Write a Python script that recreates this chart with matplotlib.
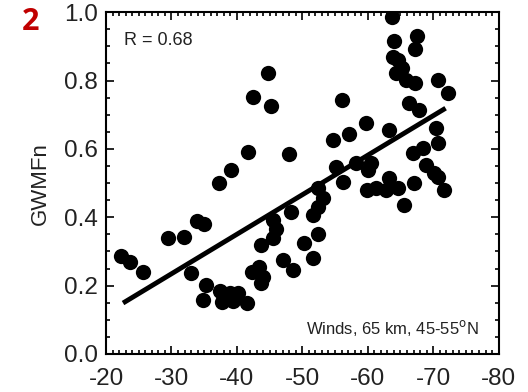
# GWMFn vs winds scatter, panel 2
import matplotlib.pyplot as plt
import numpy as np
from matplotlib.ticker import MultipleLocator

plt.rcParams['font.family'] = ['Liberation Sans', 'DejaVu Sans']
plt.rcParams['axes.unicode_minus'] = False

# winds (m/s)
winds = np.array([
    -22.3, -23.7, -25.7, -29.5, -31.9, -33.9, -35.0, -33.0, -35.3, -34.8,
    -37.4, -37.7, -38.9, -39.4, -40.2, -41.5, -37.3, -39.1, -42.4, -44.7,
    -45.2, -41.7, -42.3, -43.4, -44.0, -43.7, -43.7, -45.5, -46.0, -45.5,
    -47.0, -48.6, -48.2, -47.9, -50.2, -52.4, -51.6, -51.6, -52.4, -53.1,
    -52.4, -54.7, -56.0, -57.1, -55.1, -56.2, -58.2, -59.7, -59.9, -60.5,
    -60.0, -61.2, -62.8, -63.2, -63.2, -64.6, -65.5, -67.0, -66.9, -68.4,
    -68.9, -70.1, -70.8, -71.6, -70.8, -70.4, -72.2, -70.8, -66.3, -67.8,
    -63.7, -64.0, -67.6, -67.2, -63.8, -64.7, -65.3, -64.3, -65.8, -67.3,
])
gwmfn = np.array([
    0.287, 0.269, 0.240, 0.339, 0.342, 0.389, 0.380, 0.237, 0.202, 0.158,
    0.184, 0.152, 0.178, 0.155, 0.178, 0.149, 0.500, 0.538, 0.751, 0.822,
    0.725, 0.591, 0.240, 0.254, 0.225, 0.208, 0.319, 0.339, 0.365, 0.392,
    0.275, 0.246, 0.415, 0.585, 0.325, 0.351, 0.281, 0.406, 0.430, 0.456,
    0.485, 0.626, 0.743, 0.643, 0.547, 0.503, 0.558, 0.675, 0.480, 0.558,
    0.538, 0.485, 0.480, 0.515, 0.655, 0.485, 0.436, 0.500, 0.588, 0.602,
    0.553, 0.529, 0.518, 0.480, 0.617, 0.661, 0.763, 0.801, 0.734, 0.713,
    0.985, 0.915, 0.930, 0.892, 0.868, 0.860, 0.836, 0.822, 0.801, 0.792,
])

# regression line end points as drawn
fit_x = [-22.6, -71.9]
fit_y = [0.149, 0.719]

fig = plt.figure(figsize=(5.28, 3.92), dpi=100)
ax = fig.add_axes([0.2008, 0.097, 0.7435, 0.872])

ax.plot(winds, gwmfn, 'o', color='black', markersize=11, markeredgewidth=0)
ax.plot(fit_x, fit_y, color='black', linewidth=3.5, solid_capstyle='butt')

ax.set_xlim(-20, -80)
ax.set_ylim(0, 1)
ax.xaxis.set_major_locator(MultipleLocator(10))
ax.xaxis.set_minor_locator(MultipleLocator(1))
ax.yaxis.set_major_locator(MultipleLocator(0.2))
ax.yaxis.set_minor_locator(MultipleLocator(0.05))
ax.yaxis.set_major_formatter(plt.FormatStrFormatter('%.1f'))

ax.tick_params(which='both', direction='in', top=True, right=True,
               labelsize=17.5, labelcolor='#222222', width=1.2)
ax.tick_params(which='major', length=6)
ax.tick_params(which='minor', length=3)
ax.tick_params(axis='x', pad=10)
ax.tick_params(axis='y', pad=6)
for s in ax.spines.values():
    s.set_linewidth(1.5)

ax.set_ylabel('GWMFn', fontsize=16, color='#222222', labelpad=9)

ax.text(0.046, 0.918, 'R = 0.68', transform=ax.transAxes, fontsize=13,
        color='#222222', va='center', ha='left')
ax.text(0.95, 0.075, r'Winds, 65 km, 45-55$^{\mathrm{o}}$N', transform=ax.transAxes,
        fontsize=12, color='#222222', va='center', ha='right')

fig.text(0.057, 0.944, '2', fontsize=22, fontweight='bold', color='#C00000',
         ha='center', va='center', family=['Open Sans', 'DejaVu Sans'])

fig.savefig('out.png', dpi=100)
